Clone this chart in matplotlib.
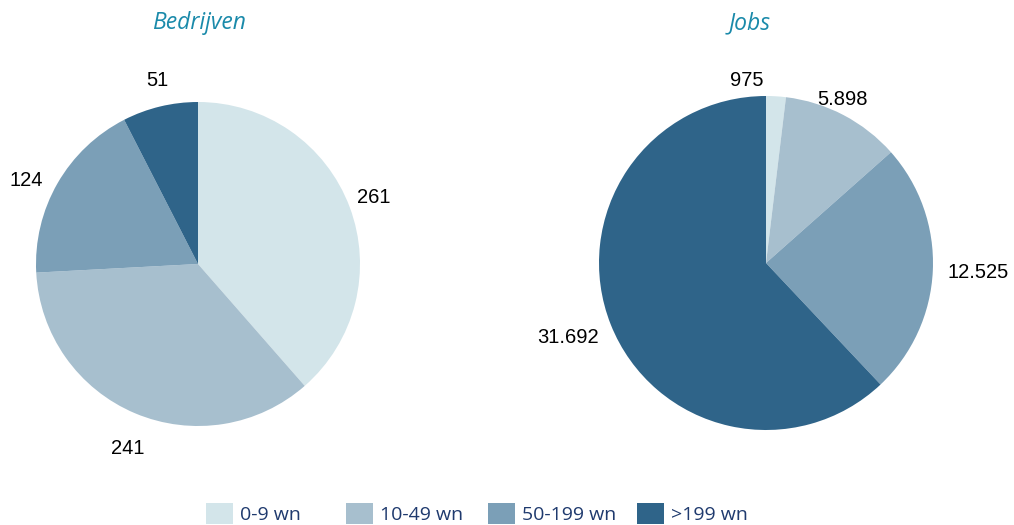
import numpy as np
import matplotlib
matplotlib.use("Agg")
import matplotlib.pyplot as plt
from matplotlib.patches import Rectangle

categories = ["0-9 wn", "10-49 wn", "50-199 wn", ">199 wn"]
bedrijven = [261, 241, 124, 51]
jobs = [975, 5898, 12525, 31692]
bedrijven_labels = ["261", "241", "124", "51"]
jobs_labels = ["975", "5.898", "12.525", "31.692"]
titles = ["Bedrijven", "Jobs"]

colors = ["#D3E5EA", "#A7BFCE", "#7B9FB7", "#2F6489"]
title_color = "#1A8AAA"
legend_text_color = "#1F3A6E"

W, H = 1014, 525
fig = plt.figure(figsize=(W / 100, H / 100), dpi=100)


def axes_at(cx, cy, r):
    return fig.add_axes([(cx - r) / W, (H - cy - r) / H, 2 * r / W, 2 * r / H])


def draw_pie(ax, values, labels, dists, angle_shift):
    wedges, _ = ax.pie(values, colors=colors, startangle=90, counterclock=False,
                       wedgeprops=dict(linewidth=0))
    ax.set_aspect("equal")
    ax.set_xlim(-1, 1)
    ax.set_ylim(-1, 1)
    for w, lab, d, sh in zip(wedges, labels, dists, angle_shift):
        mid = np.deg2rad((w.theta1 + w.theta2) / 2 + sh)
        ax.text(d * np.cos(mid), d * np.sin(mid), lab, ha="center", va="center",
                fontsize=14.5, family="Liberation Sans", color="#000000", clip_on=False)


ax1 = axes_at(198, 264, 162)
draw_pie(ax1, bedrijven, bedrijven_labels, [1.16, 1.22, 1.18, 1.16], [0, 2, 4, -1])
ax2 = axes_at(766, 263, 167)
draw_pie(ax2, jobs, jobs_labels, [1.1, 1.08, 1.27, 1.27], [9.5, 2.5, 0, -1])

fig.text(199 / W, 1 - 23 / H, titles[0], ha="center", va="center", fontsize=16.5,
         style="italic", family="Open Sans", color=title_color)
fig.text(750 / W, 1 - 23 / H, titles[1], ha="center", va="center", fontsize=16.5,
         style="italic", family="Open Sans", color=title_color)

# legend (manual entries)
sq_x = [206, 346, 488, 637]
for x, c, lab in zip(sq_x, colors, categories):
    fig.add_artist(Rectangle((x / W, 1 - 524 / H), 27 / W, 21 / H, transform=fig.transFigure,
                             facecolor=c, edgecolor="none"))
    fig.text((x + 34) / W, 1 - 514.5 / H, lab, ha="left", va="center", fontsize=14,
             family="Open Sans", color=legend_text_color)

fig.savefig("out.png", dpi=100)
